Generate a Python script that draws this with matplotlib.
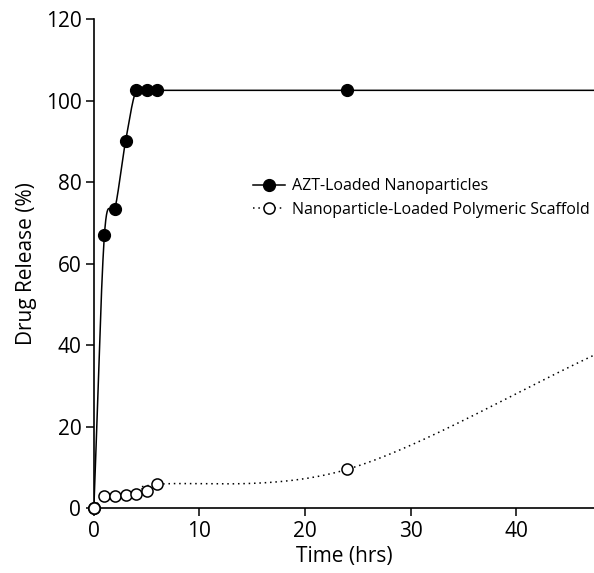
import numpy as np
import matplotlib
matplotlib.use("Agg")
import matplotlib.pyplot as plt

plt.rcParams['font.family'] = ['Open Sans', 'DejaVu Sans']

# release data (hours, %)
time_hrs = [0, 1, 2, 3, 4, 5, 6, 24, 48]
azt_release = [0, 67, 73.5, 90, 102.5, 102.5, 102.5, 102.5, 102.5]
scaffold_release = [0, 3, 3, 3.2, 3.5, 4.2, 5.8, 9.5, 38.3]

x_ticks = [0, 10, 20, 30, 40]
y_ticks = [0, 20, 40, 60, 80, 100, 120]


def catmull_rom(x, y, n_seg=200):
    """Uniform parametric Catmull-Rom curve through the points"""
    p = np.column_stack([x, y]).astype(float)
    ext = np.vstack([2 * p[0] - p[1], p, 2 * p[-1] - p[-2]])
    t = np.linspace(0, 1, n_seg)[:, None]
    h00 = 2 * t**3 - 3 * t**2 + 1
    h10 = t**3 - 2 * t**2 + t
    h01 = -2 * t**3 + 3 * t**2
    h11 = t**3 - t**2
    parts = []
    for i in range(1, len(ext) - 2):
        m0 = (ext[i + 1] - ext[i - 1]) / 2
        m1 = (ext[i + 2] - ext[i]) / 2
        parts.append(h00 * ext[i] + h10 * m0 + h01 * ext[i + 1] + h11 * m1)
    c = np.vstack(parts)
    return c[:, 0], c[:, 1]


fig = plt.figure(figsize=(5.94, 5.73), dpi=100)
ax = fig.add_axes([0.158, 0.1134, 0.842, 0.8534])

cx, cy = catmull_rom(time_hrs, azt_release)
ax.plot(cx, cy, color='black', lw=1.1)
cx, cy = catmull_rom(time_hrs, scaffold_release)
ax.plot(cx, cy, color='black', lw=1.1, linestyle=(0, (1, 2.5)))

ax.plot(time_hrs, azt_release, 'o', color='black', ms=8.5, clip_on=False, zorder=4)
ax.plot(time_hrs, scaffold_release, 'o', mfc='white', mec='black', mew=1.1, ms=8,
        clip_on=False, zorder=5)

# legend proxies
ax.plot([], [], '-o', color='black', ms=8.5, lw=1.1, label='AZT-Loaded Nanoparticles')
ax.plot([], [], 'o', mfc='white', mec='black', mew=1.1, ms=8, color='black', lw=1.1,
        linestyle=(0, (1, 2.5)), label='Nanoparticle-Loaded Polymeric Scaffold')
handles, labels = ax.get_legend_handles_labels()
ax.legend(handles, labels, loc='center left', bbox_to_anchor=(0.29, 0.634), frameon=False,
          fontsize=11.5, handlelength=2.0, handletextpad=0.4, labelspacing=0.45)

ax.set_xlim(0, 47.35)
ax.set_ylim(0, 120)
ax.set_xticks(x_ticks)
ax.set_yticks(y_ticks)
ax.spines['top'].set_visible(False)
ax.spines['right'].set_visible(False)
for s in ['left', 'bottom']:
    ax.spines[s].set_linewidth(1.2)
ax.tick_params(direction='out', length=6, width=1.1, labelsize=15, pad=3)
ax.set_xlabel('Time (hrs)', fontsize=15, labelpad=3)
ax.set_ylabel('Drug Release (%)', fontsize=15, labelpad=6)

fig.savefig('out.png', dpi=100)
